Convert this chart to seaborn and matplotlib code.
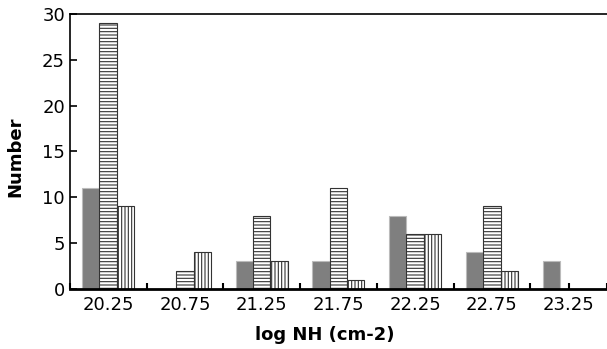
import pandas as pd
import seaborn as sns
import numpy as np
import matplotlib.pyplot as plt
from matplotlib.ticker import MultipleLocator

bins = [20.25, 20.75, 21.25, 21.75, 22.25, 22.75, 23.25]
solid = [11, 0, 3, 3, 8, 4, 3]
horiz = [29, 2, 8, 11, 6, 9, 0]
vert = [9, 4, 3, 1, 6, 2, 0]

df = pd.DataFrame({
    'bin': bins * 3,
    'count': solid + horiz + vert,
    'sample': ['a'] * 7 + ['b'] * 7 + ['c'] * 7,
})

sns.set_style('ticks')
plt.rcParams['font.family'] = ['DejaVu Sans']
plt.rcParams['hatch.linewidth'] = 0.8
for k in ['text.color', 'axes.labelcolor', 'xtick.color', 'ytick.color',
          'axes.edgecolor', 'xtick.labelcolor', 'ytick.labelcolor']:
    plt.rcParams[k] = 'black'

fig = plt.figure(figsize=(6.07, 3.49), dpi=100)
ax = fig.add_axes([0.115, 0.172, 0.885, 0.788])

sns.barplot(data=df, x='bin', y='count', hue='sample', native_scale=True,
            palette=['#7f7f7f', 'white', 'white'], width=0.68,
            edgecolor='#333333', linewidth=0.8, legend=False, ax=ax)

# hatching per series
hatches = ['', '-----', '|||||']
for cont, h in zip(ax.containers, hatches):
    for p in cont:
        p.set_hatch(h)
        if h == '':
            p.set_edgecolor('#bbbbbb')

ax.set_xlim(20.0, 23.5)
ax.set_ylim(0, 30)
ax.set_xticks(bins)
ax.set_xticklabels([f'{b:.2f}' for b in bins])
ax.xaxis.set_minor_locator(MultipleLocator(0.5))
ax.yaxis.set_major_locator(MultipleLocator(5))
ax.tick_params(axis='both', which='both', direction='in', labelsize=13)
ax.tick_params(axis='x', which='major', length=4, width=1.5, pad=5)
ax.tick_params(axis='x', which='minor', length=4, width=1.5)
ax.tick_params(axis='y', length=5, width=1.2)

for s in ['left', 'top']:
    ax.spines[s].set_linewidth(1.2)
ax.spines['bottom'].set_linewidth(2)
ax.spines['right'].set_visible(False)

ax.set_xlabel('log NH (cm-2)', fontsize=13, fontweight='bold')
ax.set_ylabel('Number', fontsize=13, fontweight='bold')
ax.xaxis.set_label_coords(0.475, -0.135)
ax.yaxis.set_label_coords(-0.085, 0.48)

fig.savefig('out.png', dpi=100)
